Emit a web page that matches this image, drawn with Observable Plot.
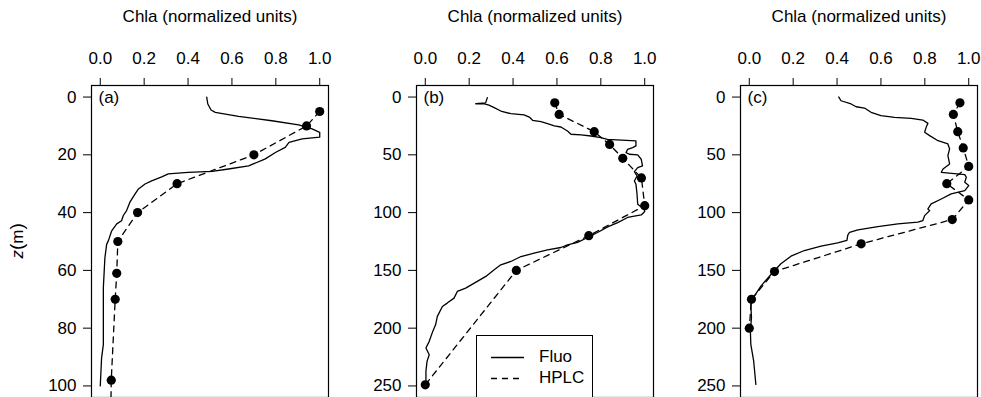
<!DOCTYPE html>
<html><head><meta charset="utf-8">
<script src="https://cdn.jsdelivr.net/npm/d3@7"></script>
<script src="https://cdn.jsdelivr.net/npm/@observablehq/plot@0.6"></script>
<style>
html,body{margin:0;padding:0;background:#fff;}
#wrap{position:relative;width:981px;height:397px;overflow:hidden;font-family:"Liberation Sans",Arial,sans-serif;}
.panel{position:absolute;top:0;}
#legend{position:absolute;left:476px;top:335px;width:115px;height:90px;border:1px solid #000;background:#fff;font-size:17px;}
#legend .item{position:absolute;left:0;height:20px;}
</style></head><body><div id="wrap"></div>
<script>
const xTitle = "Chla (normalized units)";
const yTitle = "z (m)";
const panelLabels = ["(a)", "(b)", "(c)"];
const xTicks = [0, 0.2, 0.4, 0.6, 0.8, 1.0];
const yTicksA = [0, 20, 40, 60, 80, 100];
const yTicksBC = [0, 50, 100, 150, 200, 250];
const legendItems = ["Fluo", "HPLC"];

// [Chla normalized, depth m]
const fluoA = [[0.485,0],[0.49,2.4],[0.505,4.5],[0.524,5.3],[0.63,6.7],[0.782,8.2],[0.904,9.6],[0.965,11],[1.0,12.2],[1.0,13.9],[0.92,14.5],[0.86,15.7],[0.843,17.4],[0.80,19.1],[0.75,21.5],[0.676,23.8],[0.584,24.9],[0.51,25.7],[0.40,26.1],[0.31,26.6],[0.28,27.6],[0.234,29],[0.204,30.1],[0.174,31.8],[0.158,33.6],[0.135,36.4],[0.12,39.3],[0.105,41],[0.097,42.8],[0.075,43.9],[0.052,46.3],[0.037,49.7],[0.029,51],[0.021,55.7],[0.014,66],[0.014,77.6],[0.014,85.7],[0.006,90.3],[0.003,95],[0.0,100]];
const hplcA = [[1.0,5],[0.94,10],[0.70,20],[0.35,30],[0.17,40],[0.08,50],[0.075,61],[0.068,70],[0.05,98],[0.045,125]];

const fluoB = [[0.283,0.5],[0.275,5],[0.23,5.8],[0.27,5.9],[0.29,7],[0.314,9.2],[0.344,12.1],[0.39,14.4],[0.45,15.5],[0.474,17.3],[0.489,20.1],[0.527,21.3],[0.557,23],[0.588,25],[0.618,25.9],[0.648,29.4],[0.664,32.2],[0.71,32.8],[0.755,33.7],[0.80,35.1],[0.83,36.6],[0.96,38],[0.96,42.3],[0.945,43.7],[0.922,45.2],[0.915,48.1],[0.93,49.5],[0.968,50.1],[0.984,53.8],[0.99,59.6],[0.968,61],[0.953,64.5],[0.965,68.3],[0.953,72.6],[0.96,75.4],[0.965,84.1],[0.968,92.7],[0.998,97.1],[1.0,99],[0.984,102],[0.922,104.2],[0.877,108.6],[0.831,112.3],[0.785,117.2],[0.74,121.5],[0.694,125.8],[0.648,127.9],[0.618,130.2],[0.557,132.2],[0.496,135.1],[0.436,138],[0.39,142.3],[0.344,145.2],[0.314,149.5],[0.276,155.2],[0.237,159.5],[0.184,165.3],[0.146,168.2],[0.131,174],[0.10,178.3],[0.078,181.2],[0.055,189.8],[0.047,197.1],[0.034,202.8],[0.018,211.4],[0.003,217.2],[0.018,223],[0.008,228.7],[0.003,237.3],[0.003,246]];
const hplcB = [[0.59,5],[0.61,15],[0.77,30],[0.84,41],[0.90,53],[0.985,70],[1.0,94],[0.745,120],[0.415,150],[0.0,249]];

const fluoC = [[0.408,0],[0.418,3.2],[0.464,6],[0.487,8.4],[0.525,9.5],[0.555,13.2],[0.60,16.1],[0.662,17.5],[0.738,18.4],[0.791,19.9],[0.814,22.8],[0.806,26.2],[0.799,30.5],[0.822,33.4],[0.86,37.8],[0.905,40.6],[0.913,44.9],[0.905,50.7],[0.913,57.9],[0.883,62.2],[0.875,65.1],[0.982,67.1],[0.989,69.4],[0.982,73.7],[1.0,76.6],[0.982,81],[0.92,83.8],[0.875,88.2],[0.829,92.5],[0.814,96.8],[0.822,98.3],[0.799,102.6],[0.791,106.9],[0.768,108.3],[0.677,109.8],[0.586,112.1],[0.495,115],[0.457,117],[0.449,119.5],[0.445,124],[0.403,126.2],[0.327,129],[0.251,132.8],[0.19,137.7],[0.144,144.3],[0.099,153.6],[0.053,163.6],[0.023,172.3],[0.007,179.5],[0.01,191],[0.005,202.5],[0.007,214],[0.02,228.4],[0.03,248.7]];
const hplcC = [[0.96,5],[0.93,15],[0.95,30],[0.975,44],[1.0,60],[0.90,75],[1.0,89],[0.925,106],[0.51,127],[0.115,151],[0.01,175],[0.0,200]];

const panels = [
  {fluo: fluoA, hplc: hplcA, yDomain: [-4, 104], yTicks: yTicksA, left: 0, yLab: true},
  {fluo: fluoB, hplc: hplcB, yDomain: [-10, 260], yTicks: yTicksBC, left: 325, yLab: false},
  {fluo: fluoC, hplc: hplcC, yDomain: [-10, 260], yTicks: yTicksBC, left: 649, yLab: false}
];

const wrap = document.getElementById("wrap");
const FONT = "'Liberation Sans', Arial, Helvetica, sans-serif";

panels.forEach((p, i) => {
  const marks = [
    Plot.frame({stroke: "black", strokeWidth: 1.2}),
    Plot.axisX(xTicks, {anchor: "top", tickSize: 8, tickPadding: 14, tickFormat: d3.format(".1f"), label: null}),
    Plot.axisY(p.yTicks, {anchor: "left", tickSize: 8, tickPadding: 7, label: null}),
    Plot.text([xTitle], {frameAnchor: "top", dy: -64, lineAnchor: "bottom", text: d => d, fontSize: 17}),
    Plot.line(p.fluo, {x: d => d[0], y: d => d[1], stroke: "black", strokeWidth: 1.3, clip: true}),
    Plot.line(p.hplc, {x: d => d[0], y: d => d[1], stroke: "black", strokeWidth: 1.3, strokeDasharray: "6,5", clip: true}),
    Plot.dot(p.hplc, {x: d => d[0], y: d => d[1], r: 4.6, fill: "black", stroke: null, clip: true}),
    Plot.text([panelLabels[i]], {frameAnchor: "top-left", dx: 7, dy: 12, lineAnchor: "middle", textAnchor: "start", text: d => d, fontSize: 17})
  ];
  if (p.yLab) marks.push(Plot.text([yTitle], {frameAnchor: "left", dx: -74, dy: 17, rotate: -90, lineAnchor: "middle", text: d => d, fontSize: 17}));
  const svg = Plot.plot({
    width: 330, height: 397,
    marginLeft: 91, marginRight: 2, marginTop: 85, marginBottom: 0,
    style: {fontFamily: FONT, fontSize: "17px", color: "black", background: "transparent", overflow: "visible"},
    x: {domain: [-0.04, 1.04]},
    y: {domain: p.yDomain, reverse: true},
    marks
  });
  const div = document.createElement("div");
  div.className = "panel";
  div.style.left = p.left + "px";
  div.appendChild(svg);
  wrap.appendChild(div);
  if (p.yLab) {
    d3.select(svg).selectAll("text").filter(function () { return this.textContent === yTitle; }).each(function () {
      const t = d3.select(this);
      t.text(null);
      t.append("tspan").attr("font-style", "italic").text("z");
      t.append("tspan").attr("font-size", "19px").text("(");
      t.append("tspan").text("m");
      t.append("tspan").attr("font-size", "19px").text(")");
    });
  }
});

// legend
const leg = d3.select(wrap).append("div").attr("id", "legend");
legendItems.forEach((name, i) => {
  const item = leg.append("div").attr("class", "item").style("top", (11 + i * 21) + "px").style("width", "113px");
  const s = item.append("svg").attr("width", 50).attr("height", 20).style("position", "absolute").style("left", "0px");
  s.append("line").attr("x1", 14).attr("x2", 47).attr("y1", 10.5).attr("y2", 10.5)
    .attr("stroke", "black").attr("stroke-width", 1.3).attr("stroke-dasharray", i === 1 ? "6,5" : null);
  item.append("span").style("position", "absolute").style("left", "62px").style("top", "0px").style("line-height", "20px").text(name);
});
</script></body></html>
